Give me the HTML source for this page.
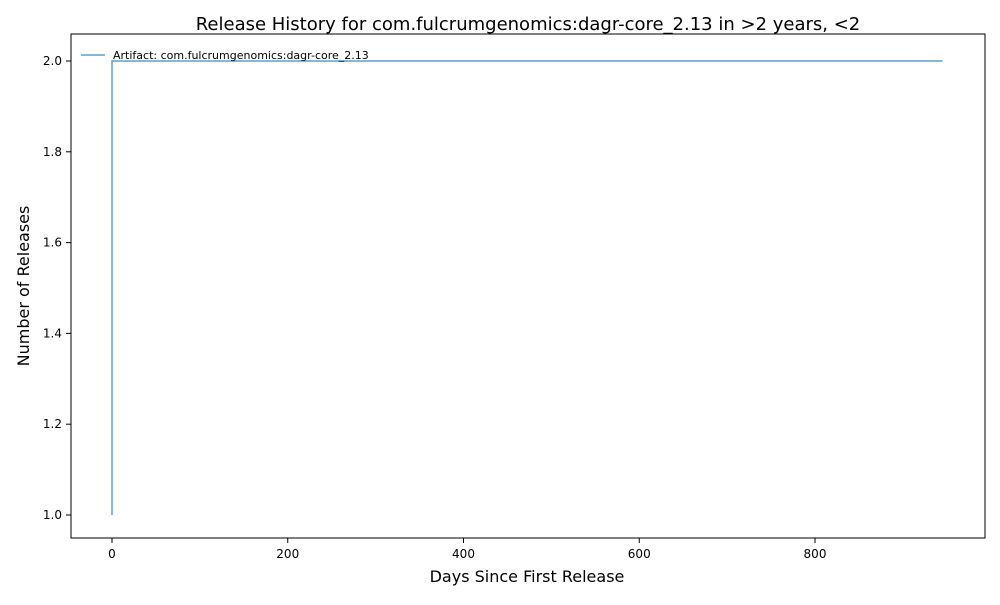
<!DOCTYPE html>
<html><head><meta charset="utf-8"><style>
body{margin:0;background:#fff;font-family:"Liberation Sans","DejaVu Sans",sans-serif;}
svg text{font-family:"DejaVu Sans","Liberation Sans",sans-serif;}
</style></head><body>
<svg id="chart" width="1000" height="600" xmlns="http://www.w3.org/2000/svg">
<rect width="1000" height="600" fill="#fff"/>
<text x="528" y="30" font-size="18" text-anchor="middle" fill="#000">Release History for com.fulcrumgenomics:dagr-core_2.13 in &gt;2 years, &lt;2</text>
<g id="plot"></g>
<rect x="71" y="34" width="914" height="504" fill="none" stroke="#000" stroke-width="1"/>
<text x="527" y="582" font-size="16" text-anchor="middle">Days Since First Release</text>
<text transform="translate(29,286) rotate(-90)" font-size="16" text-anchor="middle">Number of Releases</text>
<g>
<line x1="81" y1="55" x2="105" y2="55" stroke="#5a9fd0" stroke-width="1.5"/>
<text x="113" y="59" font-size="11">Artifact: com.fulcrumgenomics:dagr-core_2.13</text>
</g>
</svg>
<script>
const days = [0, 0, 945];
const releases = [1, 2, 2];
const xTicks = [0, 200, 400, 600, 800];
const yTicks = [1.0, 1.2, 1.4, 1.6, 1.8, 2.0];
const xs = v => 112 + (v - 0) * (703 / 800);
const ys = v => 515 - (v - 1) * 454;
const g = document.getElementById('plot');
const NS = 'http://www.w3.org/2000/svg';
function mk(t, a){const e=document.createElementNS(NS,t);for(const k in a)e.setAttribute(k,a[k]);g.appendChild(e);return e;}
xTicks.forEach(t=>{
  const l=mk('line',{x1:xs(t),x2:xs(t),y1:538,y2:543,stroke:'#000'});
  
  
  const tx=mk('text',{x:xs(t),y:558,'font-size':12,'text-anchor':'middle'});
  tx.textContent=t;
  
  
});
yTicks.forEach(t=>{
  const l=mk('line',{x1:66,x2:71,y1:ys(t),y2:ys(t),stroke:'#000'});
  
  
  const tx=mk('text',{x:62,y:ys(t)+4,'font-size':12,'text-anchor':'end'});
  tx.textContent=t.toFixed(1);
  
  
});
let d='';
for(let i=0;i<days.length;i++){
  if(i===0) d+='M'+xs(days[i])+' '+ys(releases[i]);
  else d+=' L'+xs(days[i])+' '+ys(releases[i-1])+' L'+xs(days[i])+' '+ys(releases[i]);
}
const p=mk('path',{d:d,fill:'none',stroke:'#5a9fd0','stroke-width':1.5});


</script>
</body></html>
